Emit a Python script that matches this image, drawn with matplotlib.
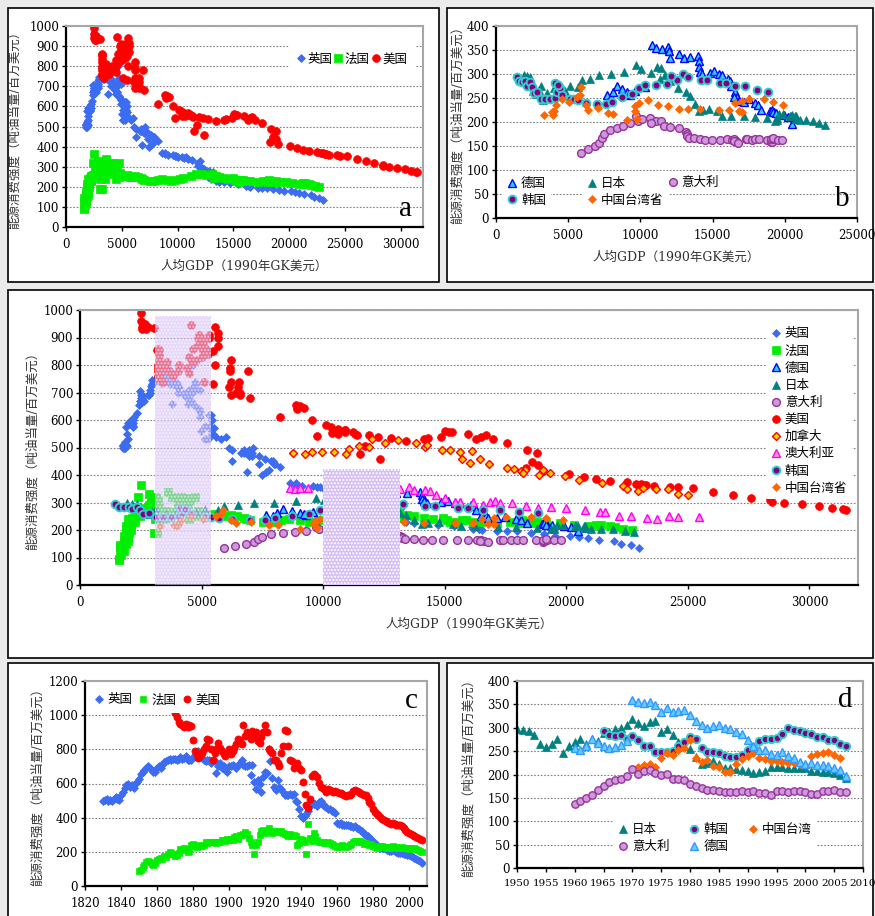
import numpy as np
import matplotlib.pyplot as plt
from matplotlib.patches import Rectangle

plt.rcParams['font.family'] = ['DejaVu Serif', 'Noto Sans CJK SC']

# ---------------------------------------------------------------- data
# energy intensity (toe / million 1990 GK$) and GDP per capita (1990 GK$)

# UK 1830-2007
uk_start = 1830
uk_int = [500, 505, 510, 500, 505, 500, 510, 520, 510, 505,
          530, 550, 575, 590, 595, 580, 590, 575, 600, 610,
          625, 655, 670, 680, 690, 705, 690, 680, 665, 670,
          690, 700, 690, 710, 725, 730, 735, 745, 735, 745,
          745, 735, 745, 755, 745, 750, 760, 740, 735, 740,
          755, 760, 780, 790, 770, 750, 740, 730, 740, 735,
          720, 730, 730, 660, 700, 720, 690, 700, 680, 670,
          700, 700, 710, 700, 690, 710, 720, 740, 710, 700,
          700, 710, 650, 710, 610, 570, 620, 600, 550, 640,
          670, 660, 800, 730, 630, 580, 560, 620, 580, 570,
          550, 530, 530, 530, 540, 530, 540, 500, 490, 450,
          410, 400, 410, 420, 440, 470, 490, 480, 480, 470,
          490, 500, 480, 470, 460, 450, 450, 440, 440, 430,
          370, 365, 370, 360, 360, 355, 355, 350, 350, 345,
          350, 340, 335, 330, 320, 305, 300, 290, 280, 275,
          260, 250, 240, 230, 225, 225, 220, 215, 210, 205,
          205, 210, 205, 200, 195, 195, 195, 190, 185, 180,
          180, 175, 170, 165, 160, 150, 145, 135]
uk_gdp = [1749, 1780, 1760, 1790, 1830, 1870, 1900, 1850, 1880, 1930,
          1990, 1950, 1900, 1960, 2070, 2160, 2200, 2160, 2190, 2240,
          2330, 2410, 2450, 2500, 2490, 2460, 2540, 2550, 2560, 2650,
          2830, 2870, 2790, 2870, 2910, 2960, 3000, 2950, 3020, 3070,
          3190, 3330, 3300, 3420, 3450, 3430, 3460, 3450, 3420, 3370,
          3477, 3580, 3650, 3640, 3600, 3560, 3600, 3720, 3880, 4000,
          4009, 3960, 3820, 3800, 4040, 4080, 4260, 4280, 4390, 4560,
          4492, 4450, 4520, 4440, 4420, 4540, 4660, 4720, 4470, 4530,
          4611, 4710, 4750, 4921, 4927, 5288, 5384, 5425, 5459, 4877,
          4548, 4439, 4637, 4760, 4926, 5144, 4986, 5321, 5358, 5503,
          5441, 5138, 5148, 5277, 5608, 5799, 6004, 6136, 6266, 6262,
          6856, 7482, 7631, 7764, 7343, 7056, 6746, 6604, 6746, 6956,
          6939, 7123, 7091, 7346, 7619, 7868, 7929, 8017, 7966, 8240,
          8645, 8857, 8865, 9149, 9568, 9752, 9885, 10049, 10410, 10552,
          10767, 10941, 11294, 12025, 11859, 11847, 12115, 12384, 12828, 13167,
          12931, 12747, 12955, 13404, 13720, 14165, 14742, 15393, 16110, 16414,
          16430, 16196, 16166, 16520, 17172, 17577, 17974, 18565, 19075, 19520,
          20150, 20540, 20890, 21360, 21950, 22250, 22650, 23000]

# France 1850-2007
fr_start = 1850
fr_int = [90, 95, 110, 125, 140, 145, 140, 130, 125, 135,
          150, 160, 165, 160, 175, 170, 185, 200, 195, 190,
          175, 180, 195, 215, 210, 220, 215, 200, 205, 240,
          245, 235, 230, 240, 235, 235, 240, 255, 250, 255,
          260, 255, 255, 250, 260, 260, 270, 270, 265, 275,
          270, 275, 270, 285, 290, 275, 300, 300, 305, 315,
          305, 280, 260, 240, 190, 240, 260, 300, 320, 330,
          310, 320, 340, 320, 310, 320, 315, 320, 315, 320,
          310, 305, 300, 295, 305, 290, 300, 295, 240, 250,
          275, 270, 260, 190, 365, 280, 265, 310, 290, 270,
          255, 260, 255, 250, 250, 255, 250, 245, 240, 235,
          230, 230, 235, 240, 235, 230, 235, 240, 245, 255,
          265, 265, 260, 265, 255, 245, 250, 245, 240, 245,
          235, 230, 225, 230, 235, 235, 230, 230, 225, 230,
          225, 235, 230, 230, 225, 225, 230, 225, 225, 220,
          215, 220, 215, 220, 215, 210, 205, 200]
fr_gdp = [1597, 1610, 1680, 1640, 1660, 1650, 1730, 1760, 1820, 1780,
          1892, 1800, 1900, 1960, 1950, 1960, 1950, 1880, 1980, 2010,
          1876, 1800, 2000, 1900, 2050, 2100, 2010, 2080, 2060, 1990,
          2120, 2180, 2260, 2250, 2200, 2180, 2230, 2250, 2280, 2330,
          2376, 2400, 2450, 2470, 2560, 2500, 2640, 2600, 2730, 2820,
          2876, 2790, 2740, 2800, 2830, 2870, 2930, 3050, 3040, 3140,
          2965, 3230, 3480, 3485, 3184, 3070, 3230, 2900, 2396, 2840,
          3227, 3144, 3610, 3800, 4150, 4166, 4240, 4170, 4430, 4710,
          4532, 4280, 4040, 4280, 4250, 4110, 4220, 4450, 4466, 4793,
          4042, 3520, 3200, 3040, 2520, 2573, 3819, 4016, 4360, 4845,
          5186, 5460, 5580, 5710, 5950, 6200, 6450, 6750, 6840, 6980,
          7546, 7880, 8260, 8590, 9040, 9410, 9800, 10180, 10500, 11180,
          11664, 12150, 12580, 13114, 13450, 13250, 13740, 14140, 14510, 14950,
          15106, 15230, 15480, 15540, 15700, 15880, 16180, 16490, 17170, 17700,
          18093, 18200, 18350, 18060, 18380, 18660, 18800, 19150, 19730, 20300,
          20950, 21240, 21350, 21420, 21780, 21990, 22320, 22700]

# USA 1870-2007
us_start = 1870
us_int = [1010, 990, 960, 950, 940, 930, 950, 930, 940, 935,
          855, 790, 770, 750, 760, 780, 800, 820, 860, 855,
          800, 740, 780, 800, 835, 810, 790, 770, 760, 780,
          800, 770, 790, 810, 830, 860, 850, 830, 945, 880,
          900, 880, 860, 910, 870, 900, 850, 840, 870, 900,
          940, 900, 800, 790, 780, 740, 740, 720, 700, 780,
          820, 915, 910, 820, 740, 730, 690, 700, 720, 690,
          680, 611, 541, 477, 457, 507, 645, 656, 650, 640,
          601, 581, 575, 568, 553, 565, 562, 556, 550, 556,
          550, 545, 545, 540, 535, 525, 530, 535, 540, 555,
          560, 555, 550, 545, 540, 530, 530, 515, 490, 480,
          448, 436, 424, 413, 405, 392, 384, 380, 375, 369,
          364, 366, 362, 360, 357, 355, 352, 337, 326, 318,
          310, 303, 299, 293, 287, 281, 275, 272]
us_gdp = [2445, 2503, 2520, 2596, 2534, 2557, 2665, 2697, 2779, 3036,
          3184, 3195, 3279, 3254, 3218, 3188, 3222, 3236, 3189, 3254,
          3392, 3430, 3666, 3433, 3258, 3573, 3477, 3738, 3815, 4051,
          4091, 4464, 4421, 4603, 4477, 4642, 5066, 5028, 4562, 5017,
          4964, 5046, 5201, 5301, 4799, 4864, 5460, 5248, 5659, 5680,
          5552, 5323, 5540, 6164, 6174, 6220, 6540, 6502, 6569, 6899,
          6213, 5691, 4908, 4777, 5114, 5467, 6204, 6430, 6126, 6561,
          7010, 8206, 9741, 11518, 12333, 11709, 9197, 8886, 9065, 8944,
          9561, 10116, 10316, 10613, 10359, 10897, 10914, 10920, 10631, 11230,
          11328, 11402, 11905, 12242, 12773, 13419, 14134, 14330, 14863, 15179,
          15030, 15304, 15944, 16689, 16491, 16284, 16975, 17567, 18373, 18789,
          18577, 18856, 18325, 19047, 20123, 20717, 21236, 21788, 22499, 23059,
          23201, 22849, 23298, 23616, 24279, 24603, 25193, 26050, 26850, 27600,
          28400, 28450, 28950, 29700, 30400, 30950, 31400, 31500]

# Germany 1960-2007
de_start = 1960
de_int = [256, 252, 262, 275, 268, 262, 256, 258, 264, 272,
          360, 355, 353, 356, 348, 334, 342, 334, 335, 338,
          327, 314, 305, 300, 303, 306, 300, 298, 290, 286,
          274, 262, 252, 252, 244, 242, 248, 240, 235, 226,
          222, 225, 220, 220, 218, 214, 210, 196]
de_gdp = [7670, 7950, 8100, 8360, 8710, 9060, 9290, 9200, 9600, 10330,
          10790, 11070, 11530, 11900, 11990, 12060, 12640, 12990, 13450, 13980,
          14070, 14070, 14140, 14260, 14830, 15130, 15410, 15640, 16100, 16220,
          16290, 16570, 16680, 16500, 16800, 17140, 17490, 17950, 18150, 18370,
          18990, 19100, 19220, 19150, 19400, 19920, 20200, 20490]

# Japan 1950-2007
jp_start = 1950
jp_int = [298, 296, 293, 284, 265, 259, 266, 275, 245, 260,
          270, 277, 265, 275, 272, 288, 290, 297, 300, 305,
          318, 310, 303, 312, 315, 290, 297, 285, 270, 262,
          255, 237, 222, 225, 228, 222, 213, 213, 212, 210,
          208, 203, 205, 208, 217, 217, 215, 213, 213, 213,
          213, 207, 207, 205, 205, 203, 198, 193]
jp_gdp = [1921, 2126, 2336, 2474, 2582, 2771, 2948, 3136, 3289, 3554,
          3986, 4426, 4777, 5129, 5668, 5934, 6506, 7152, 7983, 8874,
          9714, 10040, 10734, 11434, 11145, 11344, 11669, 12064, 12585, 13163,
          13428, 13754, 14078, 14307, 14773, 15331, 15679, 16251, 17185, 17943,
          18789, 19355, 19482, 19478, 19616, 19857, 20494, 20751, 20413, 20366,
          20738, 20778, 20789, 21024, 21440, 21930, 22400, 22800]

# Italy 1960-2007
it_start = 1960
it_int = [136, 143, 150, 157, 166, 176, 184, 188, 191, 197,
          212, 202, 207, 209, 203, 198, 202, 191, 190, 188,
          179, 175, 171, 167, 167, 165, 162, 163, 162, 164,
          162, 164, 160, 161, 157, 165, 164, 162, 165, 164,
          162, 158, 159, 165, 165, 166, 162, 162]
it_gdp = [5916, 6373, 6827, 7167, 7330, 7467, 7867, 8356, 8826, 9290,
          9719, 9833, 10108, 10634, 11050, 10742, 11416, 11664, 12045, 12693,
          13149, 13233, 13252, 13372, 13722, 14104, 14485, 14931, 15510, 15964,
          16313, 16506, 16614, 16451, 16790, 17284, 17404, 17743, 17958, 18219,
          18740, 19040, 19100, 19050, 19200, 19150, 19500, 19800]

# Korea 1965-2007
kr_start = 1965
kr_int = [293, 285, 283, 285, 275, 283, 273, 260, 262, 248,
          248, 248, 250, 262, 270, 281, 277, 257, 248, 248,
          245, 240, 238, 237, 242, 252, 258, 271, 277, 277,
          279, 287, 299, 295, 293, 288, 287, 281, 281, 274,
          274, 266, 262]
kr_gdp = [1436, 1590, 1830, 2010, 2130, 2360, 2470, 2600, 2820, 3120,
          3400, 3740, 4090, 4200, 4440, 4114, 4300, 4550, 5130, 5400,
          5710, 6260, 6980, 7600, 8020, 8710, 9400, 9870, 10330, 11070,
          11850, 12509, 12937, 12110, 13300, 14190, 14600, 15530, 15940, 16570,
          17260, 18070, 18830]

# Taiwan 1971-2006
tw_start = 1971
tw_int = [215, 220, 223, 215, 235, 247, 241, 252, 257, 273,
          236, 226, 230, 219, 217, 205, 206, 222, 233, 240,
          245, 235, 234, 228, 228, 227, 225, 225, 222, 221,
          240, 244, 247, 248, 242, 235]
tw_gdp = [3300, 3860, 4040, 3970, 4140, 4550, 5060, 5590, 5820, 5890,
          6220, 6400, 7050, 7790, 8130, 9060, 9750, 9630, 9650, 9870,
          10510, 11250, 11900, 12640, 13330, 14140, 15410, 16150, 16800, 17030,
          16520, 17030, 17540, 18530, 19150, 19850]

# Canada and Australia (only GDP-intensity pairs shown)
ca_gdp = [8770, 9250, 9550, 9970, 10440, 10930, 11070, 11480, 11890, 12030,
          12540, 13060, 13840, 14190, 14280, 14880, 15220, 15650, 16140, 15730,
          16040, 16440, 16810, 17560, 17840, 18130, 18290, 18220, 18880, 19040,
          19320, 19930, 20520, 21470, 22330, 22510, 22950, 23150, 23700, 24180,
          24590, 25000]
ca_int = [481, 475, 482, 482, 485, 475, 495, 507, 503, 530,
          515, 527, 515, 503, 509, 491, 491, 483, 487, 457,
          442, 460, 440, 427, 421, 415, 418, 408, 400, 417,
          409, 397, 381, 372, 360, 349, 342, 352, 349, 348,
          332, 327]
au_gdp = [8630, 8840, 9040, 9380, 13150, 13530, 13730, 14180, 14390, 14660,
          15000, 15440, 15620, 16170, 16580, 16850, 17060, 17260, 17780, 18330,
          18840, 19360, 19980, 20780, 21370, 21610, 22190, 22650, 23330, 23740,
          24210, 24590, 25440]
au_int = [354, 348, 352, 352, 348, 355, 345, 345, 343, 327,
          317, 303, 303, 301, 291, 303, 307, 299, 300, 286,
          280, 285, 281, 273, 267, 267, 251, 252, 242, 239,
          251, 246, 246]

names = {'uk': '英国', 'fr': '法国', 'us': '美国', 'de': '德国', 'jp': '日本',
         'it': '意大利', 'kr': '韩国', 'tw': '中国台湾省', 'ca': '加拿大', 'au': '澳大利亚'}

# ---------------------------------------------------------------- styles
STYLE = {
    'uk': dict(marker='D', mfc='#3b6cf2', mec='#3b6cf2', mew=0.5),
    'fr': dict(marker='s', mfc='#00ee00', mec='#00ee00', mew=0.5),
    'us': dict(marker='o', mfc='#ff0000', mec='#ff0000', mew=0.5),
    'de': dict(marker='^', mfc='#33ccff', mec='#0000ff', mew=1.0),
    'jp': dict(marker='^', mfc='#008080', mec='#008080', mew=0.5),
    'it': dict(marker='o', mfc='#cc99dd', mec='#993399', mew=1.0),
    'kr': dict(marker='o', mfc='#800080', mec='#33cccc', mew=1.4),
    'tw': dict(marker='D', mfc='#ff6600', mec='#ff6600', mew=0.5),
    'ca': dict(marker='D', mfc='#ffcc00', mec='#ff0000', mew=1.0),
    'au': dict(marker='^', mfc='#ff99cc', mec='#ff00ff', mew=1.0),
}
SIZE = {'o': 5.6, 's': 5.4, 'D': 4.0, '^': 6.2}

SCATTER = {'uk': (uk_gdp, uk_int), 'fr': (fr_gdp, fr_int), 'us': (us_gdp, us_int),
           'de': (de_gdp, de_int), 'jp': (jp_gdp, jp_int), 'it': (it_gdp, it_int),
           'kr': (kr_gdp, kr_int), 'tw': (tw_gdp, tw_int), 'ca': (ca_gdp, ca_int),
           'au': (au_gdp, au_int)}
SERIES = {'uk': (uk_start, uk_int), 'fr': (fr_start, fr_int), 'us': (us_start, us_int),
          'de': (de_start, de_int), 'jp': (jp_start, jp_int), 'it': (it_start, it_int),
          'kr': (kr_start, kr_int), 'tw': (tw_start, tw_int)}

YLABEL = '能源消费强度（吨油当量/百万美元）'
XLABEL = '人均GDP（1990年GK美元）'
W, H = 875, 916


def px_axes(left, top, right, bottom):
    return fig.add_axes([left / W, 1 - bottom / H, (right - left) / W, (bottom - top) / H])


def frame(ax, ymax, ystep, label_off):
    ax.set_ylim(0, ymax)
    ax.set_yticks(np.arange(0, ymax + 1, ystep))
    for s in ['left', 'bottom']:
        ax.spines[s].set_color('black')
        ax.spines[s].set_linewidth(1.6)
    for s in ['top', 'right']:
        ax.spines[s].set_color('#a6a6a6')
        ax.spines[s].set_linewidth(1.5)
    ax.tick_params(direction='out', length=3, width=1, labelsize=8.5, pad=2)
    ax.tick_params(axis='x', pad=5)
    ax.grid(axis='y', color='#808080', lw=0.8, ls=(0, (1.5, 1.5)))
    ax.set_axisbelow(True)
    ax.set_ylabel(YLABEL, fontsize=9, color='#333333')
    ax.yaxis.set_label_coords(label_off, 0.5)


def dots(ax, key, x, y, style=None, scale=1.0):
    st = dict(STYLE[key])
    if style:
        st.update(style)
    return ax.plot(x, y, ls='none', ms=SIZE[st['marker']] * scale, label=names[key],
                   **st)[0]


def box(left, top, right, bottom):
    fig.add_artist(Rectangle((left / W, 1 - bottom / H), (right - left) / W,
                             (bottom - top) / H, transform=fig.transFigure,
                             facecolor='white', edgecolor='black', lw=1.2, zorder=0))


def panel_letter(ax, s, x, y):
    ax.text(x, y, s, transform=ax.transAxes, fontsize=21, family='Liberation Serif',
            ha='center', va='center')


leg_kw = dict(frameon=True, facecolor='white', edgecolor='none', framealpha=1,
              fancybox=False, handlelength=0.8, handletextpad=0.3, fontsize=9)

fig = plt.figure(figsize=(W / 100, H / 100), dpi=100, facecolor='#ebebeb')
box(8, 8, 439, 282)
box(447, 8, 873, 282)
box(8, 290, 873, 658)
box(8, 663, 439, 930)
box(447, 663, 873, 930)

# ---------------------------------------------------------------- panel a
ax = px_axes(66, 26, 423, 227)
frame(ax, 1000, 100, -0.126)
ax.set_xlim(0, 32000)
ax.set_xticks(np.arange(0, 30001, 5000))
hs = [dots(ax, k, *SCATTER[k]) for k in ['uk', 'fr', 'us']]
ax.set_xlabel(XLABEL, fontsize=9, color='#333333', labelpad=6)
a_kw = dict(leg_kw, handlelength=0.6, handletextpad=0.25)
ax.legend(handles=hs, ncol=3, loc='center right', bbox_to_anchor=(0.995, 0.835),
          columnspacing=0.15, borderpad=0.6, **a_kw)
panel_letter(ax, 'a', 0.95, 0.09)

# ---------------------------------------------------------------- panel b
ax = px_axes(496, 26, 857, 218)
frame(ax, 400, 50, -0.089)
ax.set_xlim(0, 25000)
ax.set_xticks(np.arange(0, 25001, 5000))
hb = {k: dots(ax, k, *SCATTER[k]) for k in ['de', 'jp', 'it', 'kr', 'tw']}
ax.set_xlabel(XLABEL, fontsize=9, color='#333333', labelpad=6)
# three legend columns, placed one by one
b_cols = [(['de', 'kr'], 0.0, 0.0), (['jp', 'tw'], 0.222, 0.0), (['it'], 0.444, 0.093)]
for keys, x0, y0 in b_cols:
    lg = ax.legend([hb[k] for k in keys], [names[k] for k in keys], loc='lower left',
                   bbox_to_anchor=(x0, y0), borderpad=0.4, labelspacing=0.3,
                   **leg_kw)
    ax.add_artist(lg)
panel_letter(ax, 'b', 0.96, 0.1)

# ---------------------------------------------------------------- middle panel
ax = px_axes(80, 310, 858, 585)
frame(ax, 1000, 100, -0.053)
ax.set_xlim(0, 32000)
ax.set_xticks(np.arange(0, 30001, 5000))
hm = [dots(ax, k, *SCATTER[k]) for k in
      ['uk', 'fr', 'de', 'jp', 'it', 'us', 'ca', 'au', 'kr', 'tw']]
ax.set_xlabel(XLABEL, fontsize=9, color='#333333', labelpad=6)
ax.add_patch(Rectangle((3100, 0), 2300, 980, facecolor='#d6bff7', edgecolor='white',
                       hatch='.....', lw=0, alpha=0.6, zorder=4))
ax.add_patch(Rectangle((10000, 0), 3150, 422, facecolor='#d6bff7', edgecolor='white',
                       hatch='.....', lw=0, zorder=4))
ax.legend(handles=hm, ncol=1, loc='upper right', bbox_to_anchor=(1.0, 0.975),
          labelspacing=0.33, borderpad=0.35, **leg_kw)

# ---------------------------------------------------------------- panel c
ax = px_axes(85, 681, 427, 886)
frame(ax, 1200, 200, -0.12)
ax.set_xlim(1820, 2010)
ax.set_xticks(np.arange(1820, 2001, 20))
hc = []
for k in ['uk', 'fr', 'us']:
    start, vals = SERIES[k]
    hc.append(dots(ax, k, np.arange(start, start + len(vals)), vals, scale=0.92))
ax.legend(handles=hc, ncol=3, loc='upper left', bbox_to_anchor=(-0.01, 1.0),
          columnspacing=0.4, borderpad=0.5, **leg_kw)
panel_letter(ax, 'c', 0.955, 0.9)

# ---------------------------------------------------------------- panel d
ax = px_axes(517, 681, 863, 868)
frame(ax, 400, 50, -0.121)
ax.set_xlim(1950, 2010)
ax.set_xticks(np.arange(1950, 2011, 5))
ax.tick_params(axis='x', labelsize=7.5)
hd = {}
d_style = {'de': dict(mfc='#66ccff', mec='#3399ff')}
for k in ['jp', 'kr', 'tw', 'it', 'de']:
    start, vals = SERIES[k]
    hd[k] = dots(ax, k, np.arange(start, start + len(vals)), vals,
                 style=d_style.get(k), scale=0.95)
order = ['jp', 'it', 'kr', 'de', 'tw']
labels = [names[k] if k != 'tw' else '中国台湾' for k in order]
ax.legend([hd[k] for k in order], labels, ncol=3, loc='lower left',
          bbox_to_anchor=(0.26, 0.02), columnspacing=1.6, borderpad=0.4,
          labelspacing=0.3, **leg_kw)
panel_letter(ax, 'd', 0.95, 0.9)

fig.savefig('out.png', dpi=100, facecolor=fig.get_facecolor())
